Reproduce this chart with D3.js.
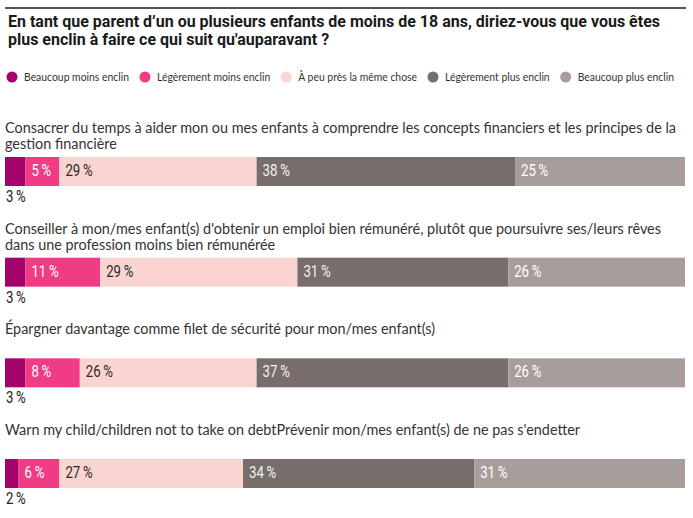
<!DOCTYPE html>
<html><head><meta charset="utf-8">
<script src="https://cdn.jsdelivr.net/npm/d3@7"></script>
<style>body{margin:0;background:#fff}svg{display:block}</style>
</head><body><svg id="c" width="693" height="518"></svg>
<script>
const titleLines = ["En tant que parent d’un ou plusieurs enfants de moins de 18 ans, diriez-vous que vous êtes", "plus enclin à faire ce qui suit qu'auparavant ?"];
const seriesNames = ["Beaucoup moins enclin","Légèrement moins enclin","À peu près la même chose","Légèrement plus enclin","Beaucoup plus enclin"];
const seriesColors = ["#a3036b","#f03c84","#fad4d0","#776e6b","#a79e9b"];
const questions = [
  ["Consacrer du temps à aider mon ou mes enfants à comprendre les concepts financiers et les principes de la","gestion financière"],
  ["Conseiller à mon/mes enfant(s) d'obtenir un emploi bien rémunéré, plutôt que poursuivre ses/leurs rêves","dans une profession moins bien rémunérée"],
  ["Épargner davantage comme filet de sécurité pour mon/mes enfant(s)"],
  ["Warn my child/children not to take on debtPrévenir mon/mes enfant(s) de ne pas s'endetter"]
];
const beaucoupMoins   = [3, 3, 3, 2];
const legerementMoins = [5, 11, 8, 6];
const memeChose       = [29, 29, 26, 27];
const legerementPlus  = [38, 31, 37, 34];
const beaucoupPlus    = [25, 26, 26, 31];

const series = [beaucoupMoins, legerementMoins, memeChose, legerementPlus, beaucoupPlus];
const rows = questions.map((q, i) => {
  const r = {id: i};
  seriesNames.forEach((s, k) => r[s] = series[k][i]);
  return r;
});

const svg = d3.select("#c");
const FONT_T = "Roboto, 'Noto Sans', sans-serif";
const FONT_Q = "Lato, 'Noto Sans', sans-serif";
const FONT_N = "Roboto, 'Noto Sans', sans-serif";

function scaleNode(node, f) {
  const w = node.getComputedTextLength();
  node.setAttribute("textLength", w * f);
  node.setAttribute("lengthAdjust", "spacingAndGlyphs");
  return w * f;
}
function fitGroup(sel, refNode, target) {
  const f = target / refNode.getComputedTextLength();
  sel.each(function(){ scaleNode(this, f); });
}

// top rule
svg.append("line").attr("x1", 5).attr("x2", 686).attr("y1", 8).attr("y2", 8)
  .attr("stroke", "#1a1a1a").attr("stroke-width", 1.5);

// title
const tt = svg.append("g").selectAll("text").data(titleLines).join("text")
  .attr("x", 8).attr("y", (d, i) => 27 + i * 17.5)
  .attr("font-family", FONT_T).attr("font-weight", 700).attr("font-size", 16.5)
  .attr("fill", "#1a1a1a").text(d => d);
fitGroup(tt, tt.nodes()[0], 652);

// legend: spread between first text start and last text end
const lg = svg.append("g");
const legT = lg.selectAll("text").data(seriesNames).join("text")
  .attr("y", 81).attr("font-family", FONT_Q).attr("font-size", 11)
  .attr("fill", "#333").text(d => d);
const legF = 105 / legT.nodes()[0].getComputedTextLength();
const legW = legT.nodes().map(n => scaleNode(n, legF));
const legStart = 24, legEnd = 674;
const legGap = (legEnd - legStart - d3.sum(legW)) / (seriesNames.length - 1);
let lx = legStart;
legT.each(function(d, k) {
  d3.select(this).attr("x", lx);
  lg.append("circle").attr("cx", lx - 12).attr("cy", 77).attr("r", 5.5).attr("fill", seriesColors[k]);
  lx += legW[k] + legGap;
});

// scales
const x = d3.scaleLinear().domain([0, 100]).range([5, 685]);
const y = d3.scalePoint().domain(rows.map(r => r.id)).range([157, 459]);
const barH = 29;

const stack = d3.stack().keys(seriesNames)(rows);

// question labels
const qg = svg.append("g");
const qTexts = [];
questions.forEach((lines, i) => {
  lines.forEach((l, j) => {
    const t = qg.append("text").attr("x", 5).attr("y", y(i) - 24 + j * 16)
      .attr("font-family", FONT_Q).attr("font-size", 14.5).attr("fill", "#333").text(l);
    qTexts.push(t.node());
  });
});
fitGroup(d3.selectAll(qTexts), qTexts[0], 671);

// bars
const layers = svg.append("g").selectAll("g").data(stack).join("g")
  .attr("fill", (d, k) => seriesColors[k]);
layers.selectAll("rect").data(d => d).join("rect")
  .attr("x", d => x(d[0])).attr("width", d => x(d[1]) - x(d[0]))
  .attr("y", d => y(d.data.id)).attr("height", barH);

// value labels
const labelColors = ["#222", "#fff", "#2a2a2a", "#f2f2f2", "#fff"];
const lbls = svg.append("g").selectAll("g").data(stack).join("g");
lbls.each(function(layer, k) {
  d3.select(this).selectAll("text").data(layer).join("text")
    .attr("x", d => k === 0 ? x(d[0]) + 1 : x(d[0]) + 6)
    .attr("y", d => k === 0 ? y(d.data.id) + 45 : y(d.data.id) + 19)
    .attr("font-family", FONT_N).attr("font-size", 16.5)
    .attr("fill", labelColors[k])
    .text(d => (d[1] - d[0]) + "\u2009%");
});
lbls.selectAll("text").each(function(){ scaleNode(this, 0.8); });
</script></body></html>
